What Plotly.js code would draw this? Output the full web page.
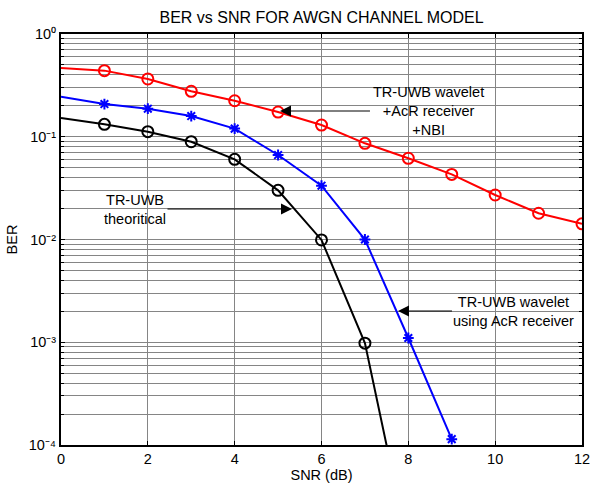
<!DOCTYPE html>
<html>
<head>
<meta charset="utf-8">
<script src="https://cdn.plot.ly/plotly-3.0.1.min.js"></script>
<style>html,body{margin:0;padding:0;background:#fff;}#chart{width:590px;height:488px;}</style>
</head>
<body>
<div id="chart"></div>
<script>
// SNR values (dB)
var snrRed = [0,1,2,3,4,5,6,7,8,9,10,11,12];
var berRed = [0.467,0.44,0.365,0.277,0.224,0.174,0.130,0.0863,0.0617,0.043,0.0271,0.018,0.0142];

var snrBlue = [0,1,2,3,4,5,6,7,8,9];
var berBlue = [0.245,0.208,0.1875,0.159,0.12,0.0664,0.0334,0.01,0.0011,0.000114];

var snrBlack = [0,1,2,3,4,5,6,7,8];
var berBlack = [0.152,0.132,0.112,0.0895,0.0603,0.0301,0.0099,0.00098,0.00001];

var xTicks = [0,2,4,6,8,10,12];
var yTickVals = [1e-4,1e-3,1e-2,1e-1,1];
var yTickText = ['10\u207B\u2074','10\u207B\u00B3','10\u207B\u00B2','10\u207B\u00B9','10\u2070'];

var yMinorVals = [];
yTickVals.slice(0,4).forEach(function(v){ for (var m = 2; m <= 9; m++) yMinorVals.push(m*v); });

var font = 'Liberation Sans, Arial, sans-serif';
var fs = 14.5;

var traces = [
  {x: snrRed, y: berRed, mode:'lines', line:{color:'#ff0000', width:2}},
  {x: snrRed.slice(1), y: berRed.slice(1), mode:'markers', marker:{symbol:'circle-open', size:11, color:'#ff0000', line:{width:2}}},
  {x: snrBlue, y: berBlue, mode:'lines', line:{color:'#0000ff', width:2}},
  {x: snrBlue.slice(1), y: berBlue.slice(1), mode:'markers', marker:{symbol:'asterisk-open', size:9, color:'#0000ff', line:{width:2, color:'#0000ff'}}},
  {x: snrBlack, y: berBlack, mode:'lines', line:{color:'#000000', width:2}},
  {x: snrBlack.slice(1,8), y: berBlack.slice(1,8), mode:'markers', marker:{symbol:'circle-open', size:11, color:'#000000', line:{width:2}}}
];

function px2x(p){ return (p-61)/43.42; }
function py2y(p){ return -(p-34)/102.75; }

function label(t, tx, ty, hx, hy, pad){
  return {text:t, x:px2x(hx), y:py2y(hy), ax:px2x(tx), ay:py2y(ty), xref:'x', yref:'y',
          axref:'x', ayref:'y', showarrow:true, arrowhead:2, arrowsize:2.2, arrowwidth:1, arrowcolor:'#000',
          borderpad:pad, align:'center', font:{family:font, size:fs, color:'#000'}};
}

var gridC = '#858585';

var layout = {
  width:590, height:488,
  margin:{l:61, r:8, t:34, b:43},
  paper_bgcolor:'#fff', plot_bgcolor:'#fff',
  showlegend:false,
  font:{family:font, size:fs, color:'#000'},
  title:{text:'BER vs SNR FOR AWGN CHANNEL MODEL', x:0.545, xanchor:'center', y:0.965, yanchor:'middle', font:{family:font, size:16, color:'#000'}},
  xaxis:{range:[0,12], tickvals:xTicks, ticks:'inside', ticklen:4, tickcolor:'#000',
         showgrid:true, gridcolor:gridC, gridwidth:1, zeroline:false,
         showline:true, linecolor:'#000', linewidth:2, mirror:'ticks',
         ticklabeloverflow:'allow',
         tickfont:{family:font, size:fs, color:'#000'},
         title:{text:'SNR (dB)', font:{family:font, size:fs, color:'#000'}, standoff:3}},
  yaxis:{type:'log', range:[-4,0], tickmode:'array', tickvals:yTickVals, ticktext:yTickText, ticks:'inside', ticklen:4, tickcolor:'#000',
         showgrid:true, gridcolor:gridC, gridwidth:1, zeroline:false,
         showline:true, linecolor:'#000', linewidth:2, mirror:'ticks',
         ticklabeloverflow:'allow',
         tickfont:{family:font, size:fs, color:'#000'},
         minor:{tickmode:'array', tickvals:yMinorVals, showgrid:true, gridcolor:gridC, gridwidth:1, ticks:'inside', ticklen:3, tickcolor:'#000'},
         title:{text:'BER', font:{family:font, size:fs, color:'#000'}, standoff:8}},
  annotations:[
    label('TR-UWB wavelet<br>+AcR receiver<br>+NBI', 429, 111, 280, 111, 3),
    label('TR-UWB<br>theoritical', 135, 209, 292, 209, 1),
    label('TR-UWB wavelet<br>using AcR receiver', 514, 311, 398, 311, 1)
  ]
};

Plotly.newPlot('chart', traces, layout, {displayModeBar:false, staticPlot:true});
</script>
</body>
</html>
